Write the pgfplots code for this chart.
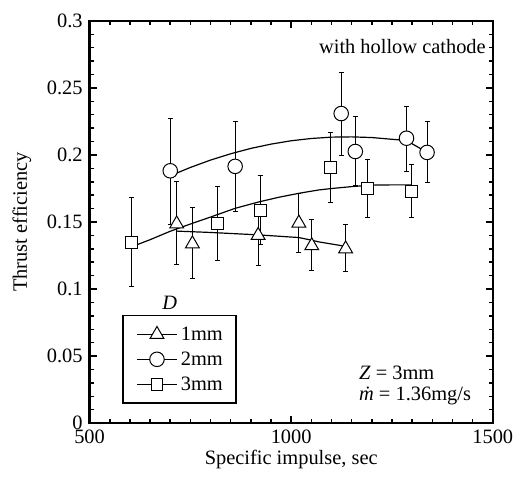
\documentclass[border=0pt]{standalone}
\usepackage{fontspec}
\setmainfont{Liberation Serif}
\usepackage{pgfplots}
\usepackage{pgfplotstable}
\pgfplotsset{compat=1.18}
\pgfplotstableread{
x y ep em
716 0.1486 0.0317 0.0305
755 0.1337 0.0270 0.0260
918 0.1400 0.0180 0.0228
1019 0.1492 0.0222 0.0217
1051 0.1323 0.0193 0.0188
1135 0.1300 0.0179 0.0166
}\tri
\pgfplotstableread{
x y ep em
700 0.1882 0.0392 0.0403
861 0.1915 0.0331 0.0335
1124 0.2309 0.0304 0.0310
1159 0.2026 0.0260 0.0256
1286 0.2125 0.0240 0.0250
1337 0.2019 0.0230 0.0228
}\cir
\pgfplotstableread{
x y ep em
604 0.1350 0.0331 0.0334
817 0.1491 0.0272 0.0275
923 0.1588 0.0257 0.0258
1098 0.1907 0.0260 0.0260
1190 0.1751 0.0218 0.0220
1299 0.1729 0.0201 0.0198
}\squ
\begin{document}
\fontsize{20.5}{24}\selectfont
\begin{tikzpicture}
\begin{axis}[
  scale only axis, width=405pt, height=404pt,
  xmin=500, xmax=1500, ymin=0, ymax=0.3,
  xtick={500,1000,1500},
  ytick={0,0.05,0.1,0.15,0.2,0.25,0.3},
  minor x tick num=9, minor y tick num=4,
  tick align=inside, tick pos=both,
  axis line style={line width=2.5pt},
  major tick length=7pt, minor tick length=4pt,
  every tick/.append style={black, line width=1.5pt},
  /pgf/number format/assume math mode=true,
  xticklabel style={/pgf/number format/1000 sep={}},
  yticklabel style={/pgf/number format/fixed, /pgf/number format/precision=2},
  ticklabel style={font=\fontsize{20.5}{24}\selectfont},
  label style={font=\fontsize{20.5}{24}\selectfont},
  xlabel={Specific impulse, sec},
  ylabel={Thrust efficiency},
  x label style={at={(axis description cs:0.5,-0.0916)}, anchor=center},
  y label style={at={(axis description cs:-0.168,0.5)}, anchor=center},
  legend style={at={(axis description cs:0.0807,0.27)}, anchor=north west,
    draw=black, line width=2pt, font=\fontsize{20.5}{24}\selectfont,
    nodes={inner xsep=3pt, inner ysep=5pt, text height=13.5pt, text depth=1.5pt},
    inner xsep=10pt, inner ysep=6.5pt, row sep=0pt, cells={anchor=west}},
  legend image code/.code={\path (-3pt,0pt) (40pt,0pt); \draw[#1, line width=1.2pt, mark repeat=2, mark phase=2] plot coordinates {(0pt,0pt) (20pt,0pt) (40pt,0pt)};},
  mk/.style={only marks, black, line width=1pt,
    mark options={fill=white, solid, line width=1pt},
    error bars/.cd, y dir=both, y explicit,
    error bar style={line width=1pt},
    error mark options={rotate=90, line width=1pt, mark size=2.5pt}},
]
\addlegendimage{black, mark=triangle*, mark size=8pt, mark options={fill=white, line width=1pt}}
\addlegendimage{black, mark=*, mark size=7.3pt, mark options={fill=white, line width=1pt}}
\addlegendimage{black, mark=square*, mark size=6pt, mark options={fill=white, line width=1pt}}
\legend{1mm\hspace{4pt},2mm\hspace{4pt},3mm\hspace{4pt}}
% fitted curves
\addplot[black, line width=1.2pt, forget plot] coordinates {
(716,0.1432) (800,0.1422) (918,0.1404) (969,0.1394) (1019,0.1384) (1051,0.1364) (1068,0.1352) (1100,0.1336) (1135,0.1318)};
\addplot[black, line width=1.2pt, forget plot] coordinates {
(700,0.1845) (750,0.1907) (800,0.1962) (850,0.2009) (900,0.2049) (950,0.2081) (1000,0.2106) (1050,0.2123) (1100,0.2133) (1150,0.2135) (1200,0.2130) (1250,0.2117) (1286,0.2108) (1337,0.2019)};
\addplot[black, line width=1.2pt, forget plot] coordinates {
(604,0.1315) (650,0.1368) (700,0.1431) (750,0.1485) (800,0.1537) (861,0.1602) (920,0.1650) (970,0.1685) (1019,0.1714) (1068,0.1739) (1101,0.1750) (1150,0.1764) (1200,0.1775) (1250,0.1777) (1299,0.1777)};
% data with error bars
\addplot[forget plot, mark=triangle*, mark size=8pt, mk] table[x=x, y=y, y error plus=ep, y error minus=em] {\tri};
\addplot[forget plot, mark=*, mark size=7.3pt, mk] table[x=x, y=y, y error plus=ep, y error minus=em] {\cir};
\addplot[forget plot, mark=square*, mark size=6pt, mk] table[x=x, y=y, y error plus=ep, y error minus=em] {\squ};
\node[anchor=east, inner sep=0pt] at (axis cs:1483,0.2811) {with hollow cathode};
\node[inner sep=0pt] at (axis cs:699,0.0899) {\textit{D}};
\node[anchor=west, inner sep=0pt] at (axis cs:1168,0.0372) {\textit{Z} = 3mm};
\node[anchor=west, inner sep=0pt] at (axis cs:1168,0.0203) {\textit{\.{m}} = 1.36mg/s};
\end{axis}
\path (current axis.south west) ++(-90pt,-73pt) coordinate (bbA);
\path (current axis.north east) ++(25pt,21pt) coordinate (bbB);
\path (bbA) rectangle (bbB);
\end{tikzpicture}
\end{document}
